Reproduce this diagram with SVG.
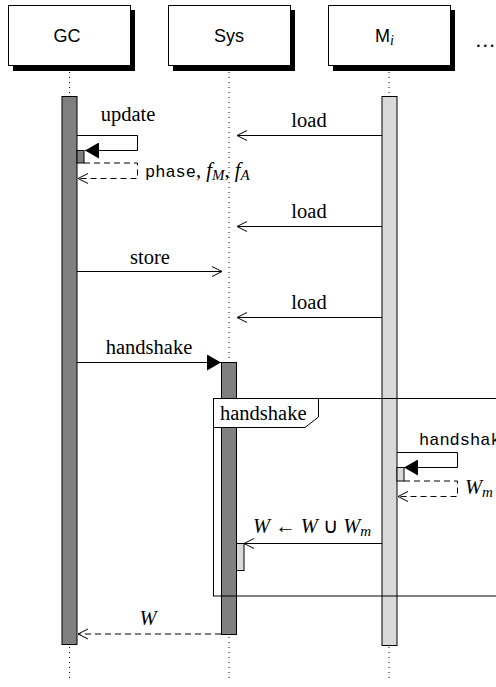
<svg xmlns="http://www.w3.org/2000/svg" width="496" height="687" viewBox="0 0 496 687">
<style>
.box{fill:#fff;stroke:#000;stroke-width:1}
.shadow{fill:#000}
.hdr{font-family:"Liberation Sans",Arial,sans-serif;font-size:18px;text-anchor:middle}
.life{stroke:#000;stroke-width:1;stroke-dasharray:1 4;fill:none}
.dark{fill:#808080;stroke:#000;stroke-width:1}
.light{fill:#d9d9d9;stroke:#000;stroke-width:1}
.msg{stroke:#000;stroke-width:1;fill:none}
.dash{stroke:#000;stroke-width:1;fill:none;stroke-dasharray:6 4}
.ser{font-family:"Liberation Serif","Times New Roman",serif;font-size:20.5px}
.lbl{font-family:"Liberation Serif","Times New Roman",serif;font-size:20.5px;text-anchor:middle}
.tt{font-family:"Liberation Mono","Courier New",monospace;font-size:17px}
.it{font-style:italic}
.sub{font-size:15px;font-style:italic}
</style>
<defs>
<marker id="fill" markerWidth="14" markerHeight="16" refX="14" refY="8" orient="auto" markerUnits="userSpaceOnUse"><path d="M0,0 L14,8 L0,16 Z" fill="#000"/></marker>
<marker id="open" markerWidth="12" markerHeight="12" refX="11" refY="6" orient="auto" markerUnits="userSpaceOnUse"><path d="M1,1 L11,6 L1,11" fill="none" stroke="#000" stroke-width="1"/></marker>
</defs>

<g id="lifelines">
<line class="life" x1="69.5" y1="72" x2="69.5" y2="682"/>
<line class="life" x1="229" y1="72" x2="229" y2="682"/>
<line class="life" x1="389" y1="72" x2="389" y2="682"/>
</g>

<g id="node-GC">
<rect class="shadow" x="13" y="10" width="122" height="61"/>
<rect class="box" x="8.5" y="5.5" width="122" height="60"/>
<text class="hdr" x="67" y="42">GC</text>
</g>
<g id="node-Sys">
<rect class="shadow" x="173" y="10" width="122" height="61"/>
<rect class="box" x="168.5" y="5.5" width="122" height="60"/>
<text class="hdr" x="229" y="42">Sys</text>
</g>
<g id="node-Mi">
<rect class="shadow" x="333" y="10" width="122" height="61"/>
<rect class="box" x="328.5" y="5.5" width="122" height="60"/>
<text class="hdr" x="375" y="42" style="text-anchor:start">M<tspan font-family="Liberation Serif,serif" font-style="italic" font-size="14" dy="3">i</tspan></text>
</g>
<g id="node-more">
<text class="ser" x="475" y="47">…</text>
</g>

<g id="activations">
<rect class="dark" x="62" y="96.5" width="15" height="548"/>
<rect class="light" x="382" y="96.5" width="15" height="549"/>
<rect class="dark" x="221.5" y="362.5" width="15" height="272"/>
<rect class="dark" x="77" y="150.5" width="7" height="12.5"/>
<rect class="light" x="397" y="467.5" width="7" height="13.5"/>
<rect class="light" x="236.5" y="543.5" width="7.5" height="27"/>
</g>

<g id="frame">
<rect x="213.5" y="398.5" width="290" height="197.5" fill="none" stroke="#000" stroke-width="1"/>
<path d="M213.5,398.5 H318.5 V417 L305,427.5 H213.5 Z" fill="#fff" stroke="#000" stroke-width="1"/>
<text class="ser" x="220" y="420">handshake</text>
</g>

<g id="connectors">
<path class="msg" d="M77,135.5 H137.5 V150.5 H85" marker-end="url(#fill)"/>
<text class="lbl" x="128" y="121">update</text>
<path class="dash" d="M84,163 H137.5 V178.5 H78" marker-end="url(#open)"/>
<text class="ser" x="145" y="177"><tspan class="tt">phase</tspan>, <tspan class="it">f</tspan><tspan class="sub" dy="3">M</tspan><tspan dy="-3">, </tspan><tspan class="it">f</tspan><tspan class="sub" dy="3">A</tspan></text>

<line class="msg" x1="382" y1="135.5" x2="237" y2="135.5" marker-end="url(#open)"/>
<text class="lbl" x="309" y="127">load</text>
<line class="msg" x1="382" y1="226.5" x2="237" y2="226.5" marker-end="url(#open)"/>
<text class="lbl" x="309" y="218">load</text>
<line class="msg" x1="382" y1="317.5" x2="237" y2="317.5" marker-end="url(#open)"/>
<text class="lbl" x="309" y="309">load</text>

<line class="msg" x1="77" y1="271.5" x2="222" y2="271.5" marker-end="url(#open)"/>
<text class="lbl" x="150" y="264">store</text>

<line class="msg" x1="77" y1="362.5" x2="221" y2="362.5" marker-end="url(#fill)"/>
<text class="lbl" x="149" y="354">handshake</text>

<path class="msg" d="M397,452.5 H457.5 V467.5 H404" marker-end="url(#fill)"/>
<text class="tt" x="419" y="445">handshake</text>
<path class="dash" d="M404,481 H457.5 V496.5 H398" marker-end="url(#open)"/>
<text class="ser it" x="465" y="494">W<tspan class="sub" dy="3">m</tspan></text>

<line class="msg" x1="382" y1="543.5" x2="244" y2="543.5" marker-end="url(#open)"/>
<text class="ser" x="253" y="533"><tspan class="it">W</tspan> ← <tspan class="it">W</tspan> ∪ <tspan class="it">W</tspan><tspan class="sub" dy="3">m</tspan></text>

<line class="dash" x1="221" y1="634" x2="78" y2="634" marker-end="url(#open)"/>
<text class="lbl it" x="148" y="625">W</text>
</g>
</svg>
